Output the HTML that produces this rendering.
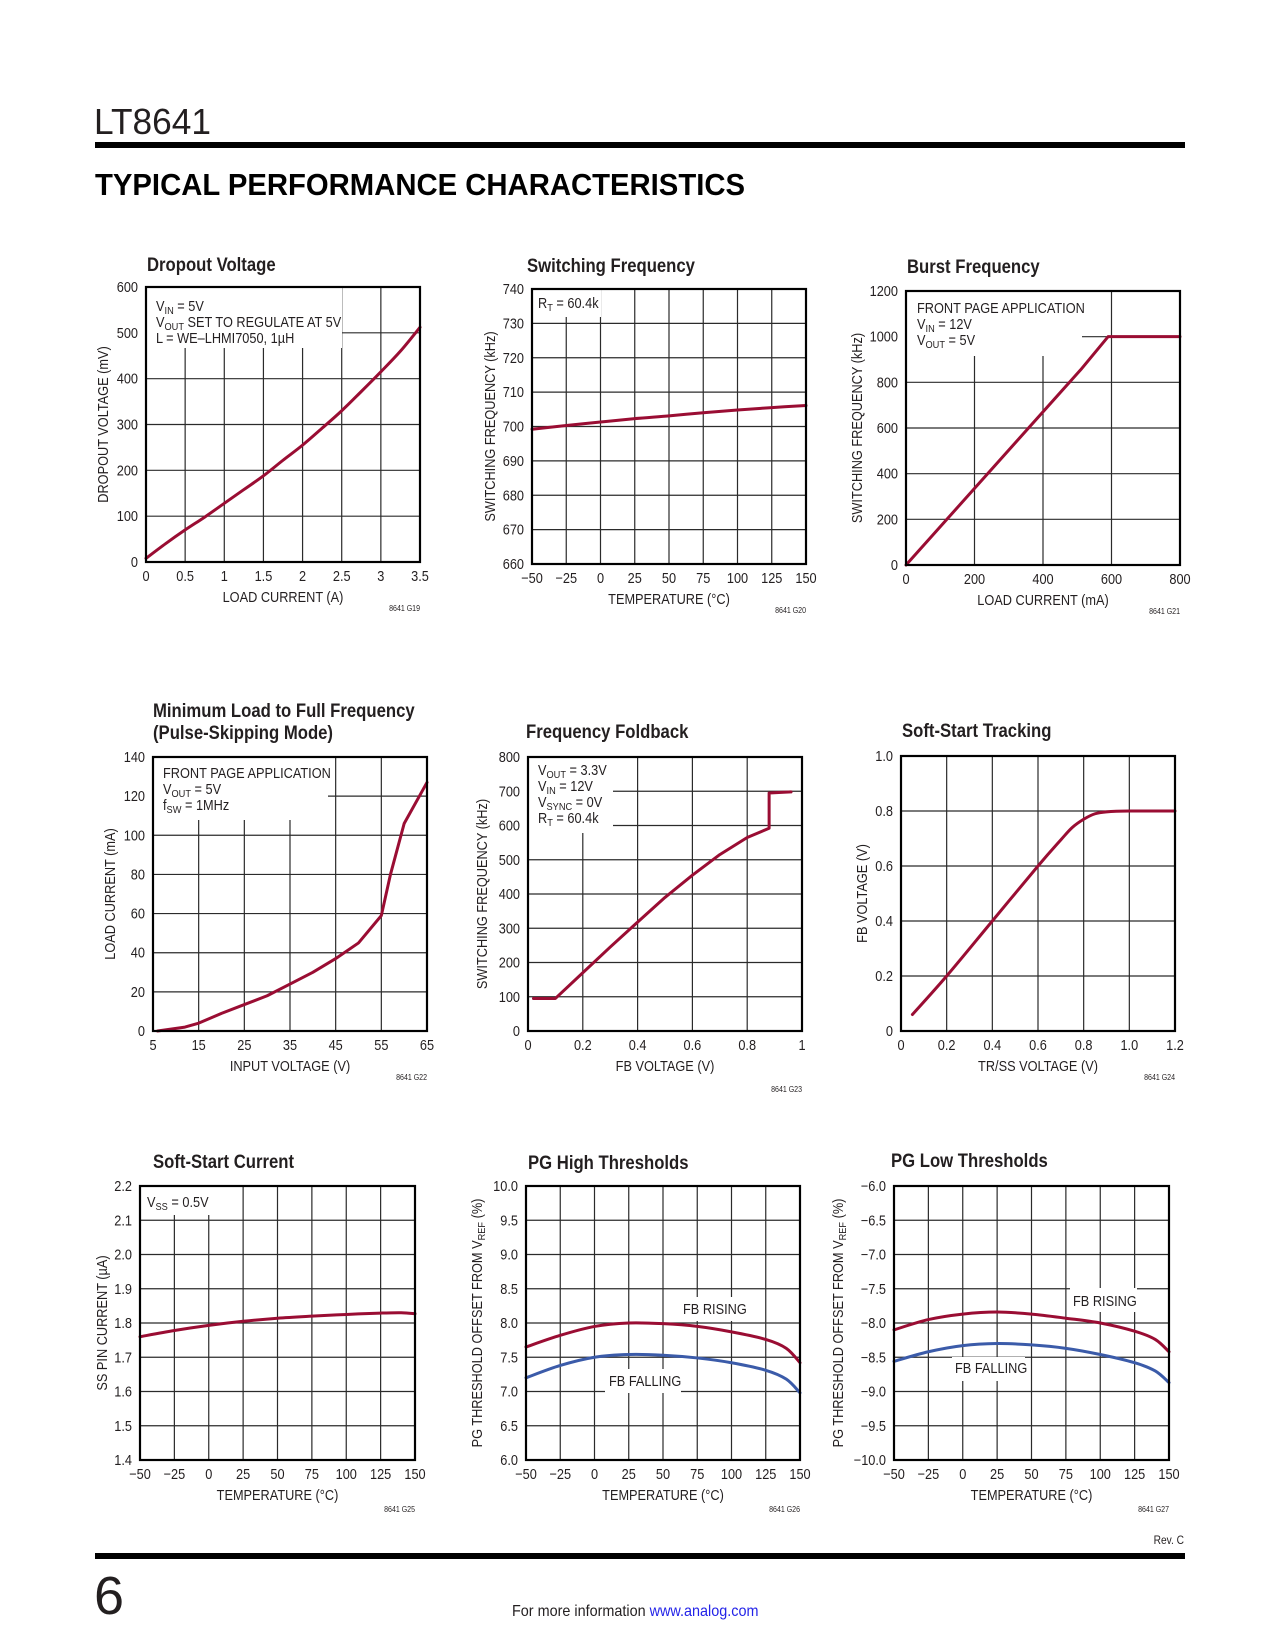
<!DOCTYPE html>
<html><head><meta charset="utf-8"><title>LT8641 Typical Performance Characteristics</title>
<style>
html,body{margin:0;padding:0;background:#fff;}
svg{display:block;}
text{font-family:"Liberation Sans",sans-serif;fill:#231f20;}
</style></head>
<body>
<svg id="page" xmlns="http://www.w3.org/2000/svg" width="1275" height="1650" viewBox="0 0 1275 1650">
  <rect x="0" y="0" width="1275" height="1650" fill="#fff"/>
  <text x="94" y="134" font-size="36" textLength="117" lengthAdjust="spacingAndGlyphs" style="font-weight:300">LT8641</text>
  <rect x="95" y="142" width="1090" height="6" fill="#000"/>
  <text x="95" y="195" font-size="31" font-weight="bold" textLength="650" lengthAdjust="spacingAndGlyphs" style="font-weight:900;fill:#000">TYPICAL PERFORMANCE CHARACTERISTICS</text>
  <text transform="translate(1184,1544) scale(0.85,1)" font-size="12" text-anchor="end">Rev. C</text>
  <rect x="95" y="1553" width="1090" height="6" fill="#000"/>
  <text x="94" y="1614" font-size="54" style="font-weight:300">6</text>
  <text transform="translate(512,1616) scale(0.9,1)" font-size="16">For more information <tspan fill="#2323e8" style="fill:#2323e8">www.analog.com</tspan></text>
  <g id="charts"></g>
</svg>
<script>
// ---------- Chart data ----------
const dropCurrent = [0,0.25,0.5,0.75,1,1.25,1.5,1.75,2,2.25,2.5,2.75,3,3.25,3.5];
const dropVoltage = [8,40,70,98,128,158,188,222,255,292,330,372,415,460,512];
const dropXTicks = ["0","0.5","1","1.5","2","2.5","3","3.5"];
const dropYTicks = ["0","100","200","300","400","500","600"];

const swTemp = [-50,-25,0,25,50,75,100,125,150];
const swFreq = [699.2,700.3,701.3,702.3,703.1,704,704.8,705.5,706.1];
const tempTicks = ["\u221250","\u221225","0","25","50","75","100","125","150"];
const swYTicks = ["660","670","680","690","700","710","720","730","740"];

const burstLoad = [0,480,510,590,800];
const burstFreq = [0,805,855,1000,1000];
const burstXTicks = ["0","200","400","600","800"];
const burstYTicks = ["0","200","400","600","800","1000","1200"];

const minVin = [6,12,15,20,25,30,35,40,45,50,55,57,60,65];
const minLoad = [0,2,4,9,13.5,18,24,30,37,45,59,80,106,127];
const minXTicks = ["5","15","25","35","45","55","65"];
const minYTicks = ["0","20","40","60","80","100","120","140"];

const fbVolt = [0.02,0.1,0.2,0.3,0.4,0.5,0.6,0.7,0.8,0.88,0.88,0.96];
const fbFreq = [95,95,170,245,318,390,455,515,565,592,695,698];
const fbXTicks = ["0","0.2","0.4","0.6","0.8","1"];
const fbYTicks = ["0","100","200","300","400","500","600","700","800"];

const trssVolt = [0.05,0.2,0.4,0.6,0.7,0.75,0.8,0.85,0.9,1.0,1.2];
const trssFb = [0.06,0.2,0.4,0.6,0.695,0.74,0.77,0.79,0.797,0.8,0.8];
const trssXTicks = ["0","0.2","0.4","0.6","0.8","1.0","1.2"];
const trssYTicks = ["0","0.2","0.4","0.6","0.8","1.0"];

const ssTemp = [-50,-25,0,25,50,75,100,125,140,150];
const ssCurrent = [1.76,1.778,1.793,1.805,1.814,1.82,1.825,1.829,1.83,1.827];
const ssYTicks = ["1.4","1.5","1.6","1.7","1.8","1.9","2.0","2.1","2.2"];

const pgTemp = [-50,-25,0,25,50,75,100,125,140,150];
const pgHighRising = [7.65,7.82,7.95,8.0,7.99,7.95,7.87,7.76,7.63,7.42];
const pgHighFalling = [7.2,7.38,7.5,7.54,7.53,7.49,7.42,7.31,7.18,6.98];
const pgHighYTicks = ["6.0","6.5","7.0","7.5","8.0","8.5","9.0","9.5","10.0"];

const pgLowRising = [-8.1,-7.95,-7.87,-7.84,-7.87,-7.93,-8.0,-8.12,-8.24,-8.42];
const pgLowFalling = [-8.56,-8.42,-8.33,-8.3,-8.32,-8.37,-8.46,-8.58,-8.7,-8.87];
const pgLowYTicks = ["\u221210.0","\u22129.5","\u22129.0","\u22128.5","\u22128.0","\u22127.5","\u22127.0","\u22126.5","\u22126.0"];

// ---------- Drawing ----------
const NS = 'http://www.w3.org/2000/svg';
const RED = '#9a0d33', BLUE = '#3b5ba9';
const SX = 0.88;
const root = document.getElementById('charts');

function mk(parent, tag, attrs, name) {
  const el = document.createElementNS(NS, tag);
  for (const k in attrs) el.setAttribute(k, attrs[k]);
  
  
  parent.appendChild(el);
  return el;
}
function txt(parent, x, y, size, anchor, name, extra) {
  const a = {transform: 'translate(' + x + ',' + y + ') ' + (extra || '') + ' scale(' + SX + ',1)', 'font-size': size, 'text-anchor': anchor};
  return mk(parent, 'text', a, name);
}

function smoothPath(pts) {
  let d = 'M' + pts[0][0].toFixed(2) + ',' + pts[0][1].toFixed(2);
  for (let i = 0; i < pts.length - 1; i++) {
    const p0 = pts[i - 1] || pts[i], p1 = pts[i], p2 = pts[i + 1], p3 = pts[i + 2] || p2;
    const c1 = [p1[0] + (p2[0] - p0[0]) / 6, p1[1] + (p2[1] - p0[1]) / 6];
    const c2 = [p2[0] - (p3[0] - p1[0]) / 6, p2[1] - (p3[1] - p1[1]) / 6];
    d += ' C' + c1[0].toFixed(2) + ',' + c1[1].toFixed(2) + ' ' + c2[0].toFixed(2) + ',' + c2[1].toFixed(2) + ' ' + p2[0].toFixed(2) + ',' + p2[1].toFixed(2);
  }
  return d;
}
function linePath(pts) {
  return pts.map((p, i) => (i ? 'L' : 'M') + p[0].toFixed(2) + ',' + p[1].toFixed(2)).join(' ');
}

function drawChart(c) {
  const g = mk(root, 'g', {}, c.name);
  const xs = v => c.L + (v - c.xmin) / (c.xmax - c.xmin) * (c.R - c.L);
  const ys = v => c.B - (v - c.ymin) / (c.ymax - c.ymin) * (c.B - c.T);
  c.title.forEach((t, i) => {
    const tt = txt(g, c.titleX, c.titleY + i * 22, 19, 'start', 'chart-title');
    tt.setAttribute('font-weight', 'bold');
    tt.textContent = t;
  });
  const gridG = mk(g, 'g', {stroke: '#2b2b2b', 'stroke-width': 1.2}, 'grid');
  const nx = c.xLabels.length - 1, ny = c.yLabels.length - 1;
  for (let i = 1; i < nx; i++) {
    const v = c.xmin + i * (c.xmax - c.xmin) / nx;
    mk(gridG, 'line', {x1: xs(v), x2: xs(v), y1: c.T, y2: c.B}, 'grid-line-vertical');
  }
  for (let i = 1; i < ny; i++) {
    const v = c.ymin + i * (c.ymax - c.ymin) / ny;
    mk(gridG, 'line', {x1: c.L, x2: c.R, y1: ys(v), y2: ys(v)}, 'grid-line-horizontal');
  }
  (c.boxes || []).forEach(b => {
    mk(g, 'rect', {x: b[0], y: b[1], width: b[2], height: b[3], fill: '#fff'}, 'annotation-background');
  });
  c.xLabels.forEach((lab, i) => {
    const v = c.xmin + i * (c.xmax - c.xmin) / nx;
    const t = txt(g, xs(v), c.B + 19, 14.5, 'middle', 'x-tick-label');
    t.textContent = lab;
  });
  c.yLabels.forEach((lab, i) => {
    const v = c.ymin + i * (c.ymax - c.ymin) / ny;
    const t = txt(g, c.L - 8, ys(v) + 5, 14.5, 'end', 'y-tick-label');
    t.textContent = lab;
  });
  const xt = txt(g, (c.L + c.R) / 2, c.B + (c.xTitleOff || 40), 14.5, 'middle', 'x-axis-title');
  xt.textContent = c.xTitle;
  const yc = (c.T + c.B) / 2;
  const yt = txt(g, c.L - c.yTitleOff + 5, yc, 14.5, 'middle', 'y-axis-title', 'rotate(-90)');
  yt.innerHTML = c.yTitle;
  const code = txt(g, c.R, c.B + (c.codeOff || 49), 8, 'end', 'figure-code');
  code.textContent = c.code;
  (c.notes || []).forEach(n => {
    const t = txt(g, n[0], n[1], 14.5, 'start', 'annotation-text');
    t.innerHTML = n[2];
  });
  c.series.forEach(s => {
    const pts = s.x.map((xv, i) => [xs(xv), ys(s.y[i])]);
    mk(g, 'path', {d: s.smooth ? smoothPath(pts) : linePath(pts), fill: 'none', stroke: s.color, 'stroke-width': 3, 'stroke-linejoin': 'round', 'stroke-linecap': 'round'}, s.name);
  });
  mk(g, 'rect', {x: c.L, y: c.T, width: c.R - c.L, height: c.B - c.T, fill: 'none', stroke: '#000', 'stroke-width': 2.2}, 'plot-frame');
}

const sub = s => '<tspan font-size="10.5" dy="3">' + s + '</tspan><tspan dy="-3">\u200b</tspan>';

drawChart({name: 'dropout-voltage-chart', L: 146, R: 420, T: 287, B: 562, xmin: 0, xmax: 3.5, ymin: 0, ymax: 600,
  xLabels: dropXTicks, yLabels: dropYTicks, title: ['Dropout Voltage'], titleX: 147, titleY: 271,
  xTitle: 'LOAD CURRENT (A)', yTitle: 'DROPOUT VOLTAGE (mV)', yTitleOff: 43, code: '8641 G19',
  boxes: [[147, 288, 195, 60]],
  notes: [[156, 311, 'V' + sub('IN') + ' = 5V'], [156, 327, 'V' + sub('OUT') + ' SET TO REGULATE AT 5V'], [156, 343, 'L = WE\u2013LHMI7050, 1\u00b5H']],
  series: [{name: 'dropout-line', x: dropCurrent, y: dropVoltage, color: RED, smooth: true}]});

drawChart({name: 'switching-frequency-chart', L: 532, R: 806, T: 289, B: 564, xmin: -50, xmax: 150, ymin: 660, ymax: 740,
  xLabels: tempTicks, yLabels: swYTicks, title: ['Switching Frequency'], titleX: 527, titleY: 272,
  xTitle: 'TEMPERATURE (\u00b0C)', yTitle: 'SWITCHING FREQUENCY (kHz)', yTitleOff: 42, code: '8641 G20',
  boxes: [[533, 290, 68, 27]],
  notes: [[538, 308, 'R' + sub('T') + ' = 60.4k']],
  series: [{name: 'frequency-line', x: swTemp, y: swFreq, color: RED, smooth: true}]});

drawChart({name: 'burst-frequency-chart', L: 906, R: 1180, T: 291, B: 565, xmin: 0, xmax: 800, ymin: 0, ymax: 1200,
  xLabels: burstXTicks, yLabels: burstYTicks, title: ['Burst Frequency'], titleX: 907, titleY: 273,
  xTitle: 'LOAD CURRENT (mA)', yTitle: 'SWITCHING FREQUENCY (kHz)', yTitleOff: 49, code: '8641 G21',
  boxes: [[907, 292, 175, 64]],
  notes: [[917, 313, 'FRONT PAGE APPLICATION'], [917, 329, 'V' + sub('IN') + ' = 12V'], [917, 345, 'V' + sub('OUT') + ' = 5V']],
  series: [{name: 'burst-line', x: burstLoad, y: burstFreq, color: RED, smooth: false}]});

drawChart({name: 'minimum-load-chart', L: 153, R: 427, T: 757, B: 1031, xmin: 5, xmax: 65, ymin: 0, ymax: 140,
  xLabels: minXTicks, yLabels: minYTicks, title: ['Minimum Load to Full Frequency', '(Pulse-Skipping Mode)'], titleX: 153, titleY: 717,
  xTitle: 'INPUT VOLTAGE (V)', yTitle: 'LOAD CURRENT (mA)', yTitleOff: 43, code: '8641 G22',
  boxes: [[154, 758, 174, 62]],
  notes: [[163, 778, 'FRONT PAGE APPLICATION'], [163, 794, 'V' + sub('OUT') + ' = 5V'], [163, 810, 'f' + sub('SW') + ' = 1MHz']],
  series: [{name: 'min-load-line', x: minVin, y: minLoad, color: RED, smooth: false}]});

drawChart({name: 'frequency-foldback-chart', L: 528, R: 802, T: 757, B: 1031, xmin: 0, xmax: 1, ymin: 0, ymax: 800,
  xLabels: fbXTicks, yLabels: fbYTicks, title: ['Frequency Foldback'], titleX: 526, titleY: 738,
  xTitle: 'FB VOLTAGE (V)', yTitle: 'SWITCHING FREQUENCY (kHz)', yTitleOff: 46, code: '8641 G23', codeOff: 61,
  boxes: [[529, 758, 84, 75]],
  notes: [[538, 775, 'V' + sub('OUT') + ' = 3.3V'], [538, 791, 'V' + sub('IN') + ' = 12V'], [538, 807, 'V' + sub('SYNC') + ' = 0V'], [538, 823, 'R' + sub('T') + ' = 60.4k']],
  series: [{name: 'foldback-line', x: fbVolt, y: fbFreq, color: RED, smooth: false}]});

drawChart({name: 'soft-start-tracking-chart', L: 901, R: 1175, T: 756, B: 1031, xmin: 0, xmax: 1.2, ymin: 0, ymax: 1.0,
  xLabels: trssXTicks, yLabels: trssYTicks, title: ['Soft-Start Tracking'], titleX: 902, titleY: 737,
  xTitle: 'TR/SS VOLTAGE (V)', yTitle: 'FB VOLTAGE (V)', yTitleOff: 39, code: '8641 G24',
  series: [{name: 'tracking-line', x: trssVolt, y: trssFb, color: RED, smooth: true}]});

drawChart({name: 'soft-start-current-chart', L: 140, R: 415, T: 1186, B: 1460, xmin: -50, xmax: 150, ymin: 1.4, ymax: 2.2,
  xLabels: tempTicks, yLabels: ssYTicks, title: ['Soft-Start Current'], titleX: 153, titleY: 1168,
  xTitle: 'TEMPERATURE (\u00b0C)', yTitle: 'SS PIN CURRENT (\u00b5A)', yTitleOff: 38, code: '8641 G25', codeOff: 52,
  boxes: [[141, 1187, 78, 28]],
  notes: [[147, 1207, 'V' + sub('SS') + ' = 0.5V']],
  series: [{name: 'ss-current-line', x: ssTemp, y: ssCurrent, color: RED, smooth: true}]});

drawChart({name: 'pg-high-thresholds-chart', L: 526, R: 800, T: 1186, B: 1460, xmin: -50, xmax: 150, ymin: 6, ymax: 10,
  xLabels: tempTicks, yLabels: pgHighYTicks, title: ['PG High Thresholds'], titleX: 528, titleY: 1169,
  xTitle: 'TEMPERATURE (\u00b0C)', yTitle: 'PG THRESHOLD OFFSET FROM V' + sub('REF') + ' (%)', yTitleOff: 49, code: '8641 G26', codeOff: 52,
  boxes: [[679, 1297, 68, 24], [605, 1369, 76, 24]],
  notes: [[683, 1314, 'FB RISING'], [609, 1386, 'FB FALLING']],
  series: [{name: 'fb-rising-line', x: pgTemp, y: pgHighRising, color: RED, smooth: true},
           {name: 'fb-falling-line', x: pgTemp, y: pgHighFalling, color: BLUE, smooth: true}]});

drawChart({name: 'pg-low-thresholds-chart', L: 894, R: 1169, T: 1186, B: 1460, xmin: -50, xmax: 150, ymin: -10, ymax: -6,
  xLabels: tempTicks, yLabels: pgLowYTicks, title: ['PG Low Thresholds'], titleX: 891, titleY: 1167,
  xTitle: 'TEMPERATURE (\u00b0C)', yTitle: 'PG THRESHOLD OFFSET FROM V' + sub('REF') + ' (%)', yTitleOff: 56, code: '8641 G27', codeOff: 52,
  boxes: [[1070, 1288, 67, 24], [952, 1357, 73, 24]],
  notes: [[1073, 1306, 'FB RISING'], [955, 1373, 'FB FALLING']],
  series: [{name: 'fb-rising-line', x: pgTemp, y: pgLowRising, color: RED, smooth: true},
           {name: 'fb-falling-line', x: pgTemp, y: pgLowFalling, color: BLUE, smooth: true}]});
</script>
</body></html>
